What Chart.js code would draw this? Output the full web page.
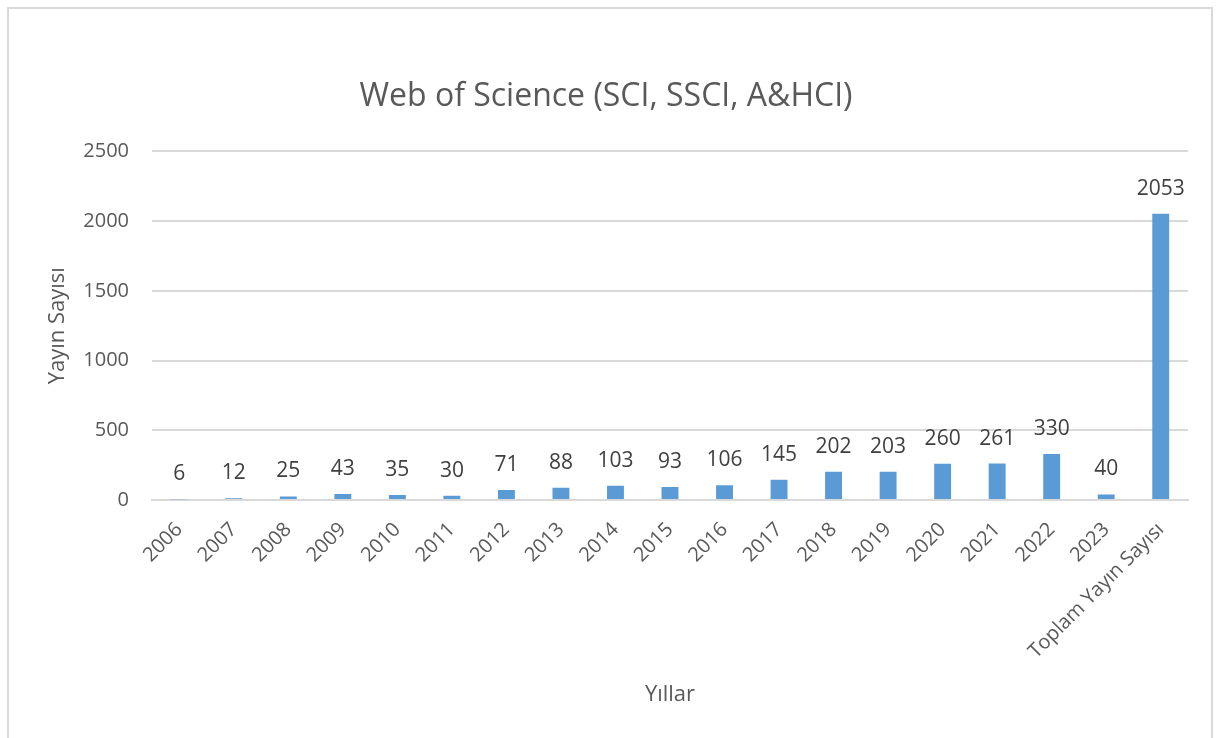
<!DOCTYPE html>
<html>
<head>
<meta charset="utf-8">
<script src="https://cdn.jsdelivr.net/npm/chart.js@4/dist/chart.umd.min.js"></script>
<style>
  body { margin: 0; background: #fff; }
  #wrap { position: relative; width: 1217px; height: 738px; }
  #frame { position: absolute; left: 7px; top: 7px; width: 1206px; height: 740px;
           border: 2px solid #d9d9d9; box-sizing: border-box; pointer-events: none; }
</style>
</head>
<body>
<div id="wrap">
  <canvas id="myChart" width="1217" height="738"></canvas>
  <div id="frame"></div>
</div>
<script>
// chart data
var years = ['2006','2007','2008','2009','2010','2011','2012','2013','2014','2015',
             '2016','2017','2018','2019','2020','2021','2022','2023','Toplam Yayın Sayısı'];
var yayinSayisi = [6, 12, 25, 43, 35, 30, 71, 88, 103, 93, 106, 145, 202, 203, 260, 261, 330, 40, 2053];
var yTicks = [0, 500, 1000, 1500, 2000, 2500];

var textColor = '#595959';
var fontName = "'Open Sans', 'Noto Sans', sans-serif";

// draw the value above each bar
var valueLabels = {
  id: 'valueLabels',
  afterDatasetsDraw: function(chart) {
    var ctx = chart.ctx;
    var meta = chart.getDatasetMeta(0);
    ctx.save();
    ctx.font = '21px ' + fontName;
    ctx.fillStyle = '#404040';
    ctx.textAlign = 'center';
    ctx.textBaseline = 'middle';
    meta.data.forEach(function(bar, i) {
      ctx.fillText(yayinSayisi[i], bar.x, bar.y - 25);
    });
    ctx.restore();
  }
};

function create_Bar_Graph() {
  const ctx = document.getElementById('myChart').getContext('2d');
  const myChart = new Chart(ctx, {
    type: 'bar',
    data: {
      labels: years,
      datasets: [{
        label: 'Yayın Sayısı',
        data: yayinSayisi,
        backgroundColor: '#5b9bd5',
        barPercentage: 0.31,
        categoryPercentage: 1
      }]
    },
    options: {
      responsive: false,
      animation: false,
      layout: { padding: { left: 24, right: 29, top: 0, bottom: 0 } },
      plugins: {
        legend: { display: false },
        tooltip: { enabled: false },
        title: {
          display: true,
          text: 'Web of Science (SCI, SSCI, A&HCI)',
          color: textColor,
          font: { family: fontName, size: 32, weight: 'normal' },
          padding: { top: 78, bottom: 35 }
        }
      },
      scales: {
        x: {
          grid: { display: false, drawTicks: false },
          border: { display: true, color: '#d9d9d9', width: 2 },
          ticks: {
            color: textColor,
            font: { family: fontName, size: 20 },
            minRotation: 45,
            maxRotation: 45,
            autoSkip: false,
            padding: 18
          },
          title: {
            display: true,
            text: 'Yıllar',
            color: textColor,
            font: { family: fontName, size: 22 },
            padding: { top: 0, bottom: 30 }
          },
          afterFit: function(scale) { scale.height = 238; }
        },
        y: {
          min: 0,
          max: 2500,
          afterBuildTicks: function(scale) {
            scale.ticks = yTicks.map(function(v) { return { value: v }; });
          },
          grid: { color: '#d9d9d9', lineWidth: 2, drawTicks: false },
          border: { display: false },
          ticks: {
            color: textColor,
            font: { family: fontName, size: 20 },
            padding: 23,
            callback: function(value) { return String(value); }
          },
          title: {
            display: true,
            text: 'Yayın Sayısı',
            color: textColor,
            font: { family: fontName, size: 22 },
            padding: { top: 21, bottom: 0 }
          },
          afterFit: function(scale) { scale.width = 128; }
        }
      }
    },
    plugins: [valueLabels]
  });
}

create_Bar_Graph();
</script>
</body>
</html>
